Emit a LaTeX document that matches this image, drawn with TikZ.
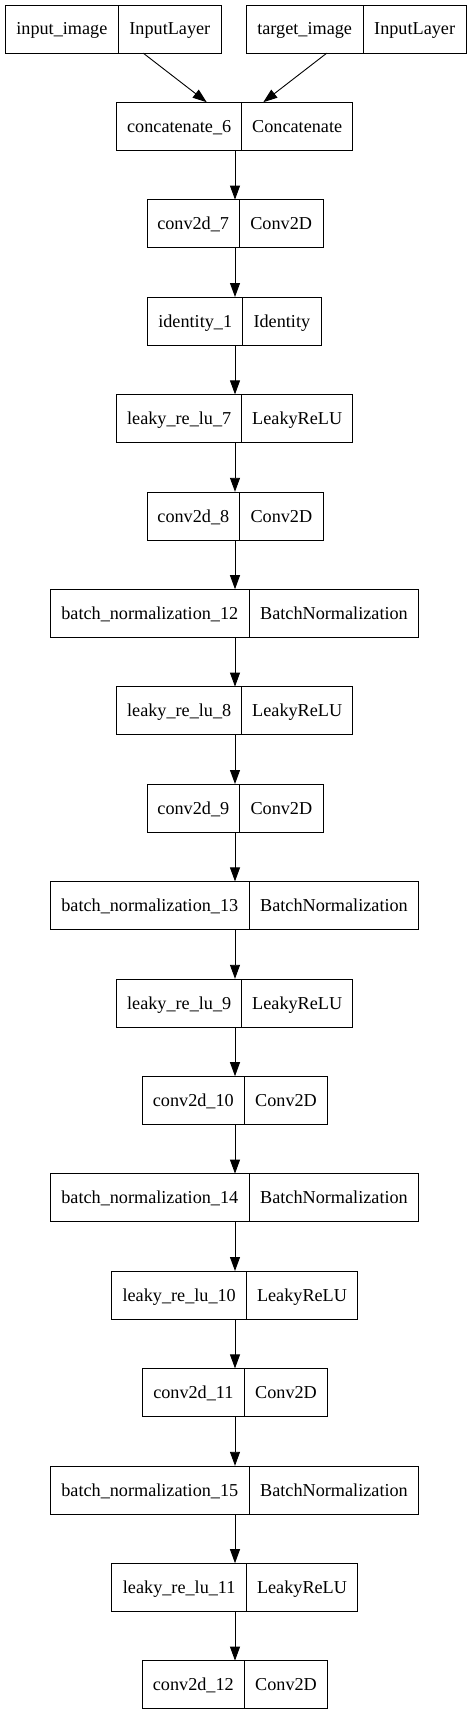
\documentclass[tikz,border=0pt]{standalone}
\usepackage{fontspec}
\setmainfont{Liberation Serif}
\usetikzlibrary{arrows.meta}
\tikzset{
  cell/.style={draw=black, line width=0.9pt, minimum height=48pt, inner sep=0pt,
    text height=12pt, text depth=0pt, font=\fontsize{18.2}{20}\selectfont},
  lay/.style={draw=none, minimum height=48pt, inner sep=0pt},
  edge/.style={line width=0.9pt, -{Triangle[length=14pt,width=10pt]}}
}
\newcommand{\mklayer}[7]{%
  \pgfmathsetmacro{\ly}{5+97.4*#2+24}%
  \pgfmathsetmacro{\lw}{#5-#3}%
  \pgfmathsetmacro{\lwa}{#4-#3}%
  \pgfmathsetmacro{\lwb}{#5-#4}%
  \pgfmathsetmacro{\lca}{(#3+#4)/2}%
  \pgfmathsetmacro{\lcb}{(#4+#5)/2}%
  \pgfmathsetmacro{\lc}{(#3+#5)/2}%
  \node[lay, minimum width=\lw pt] (#1) at (\lc,\ly) {};
  \node[cell, minimum width=\lwa pt] (#1l) at (\lca,\ly) {#6};
  \node[cell, minimum width=\lwb pt] (#1r) at (\lcb,\ly) {#7};
}
\begin{document}
\begin{tikzpicture}[x=1pt,y=-1pt]
\useasboundingbox (0,0) rectangle (471,1715);
\coordinate (axis) at (235,0);
\mklayer{inp}{0}{5}{118.7}{221}{input\_image}{InputLayer}
\mklayer{tgt}{0}{246}{363.3}{466}{target\_image}{InputLayer}
\mklayer{cat}{1}{116.7}{241.7}{352.7}{concatenate\_6}{Concatenate}
\mklayer{cvA}{2}{147}{239.3}{323}{conv2d\_7}{Conv2D}
\mklayer{idn}{3}{147.7}{242.7}{321}{identity\_1}{Identity}
\mklayer{lrA}{4}{116.7}{241.7}{352.7}{leaky\_re\_lu\_7}{LeakyReLU}
\mklayer{cvB}{5}{147}{239.7}{323}{conv2d\_8}{Conv2D}
\mklayer{bnA}{6}{50.3}{249.3}{418.7}{batch\_normalization\_12}{BatchNormalization}
\mklayer{lrB}{7}{116.7}{241.7}{352.7}{leaky\_re\_lu\_8}{LeakyReLU}
\mklayer{cvC}{8}{147}{239.7}{323}{conv2d\_9}{Conv2D}
\mklayer{bnB}{9}{50.3}{249.3}{418.7}{batch\_normalization\_13}{BatchNormalization}
\mklayer{lrC}{10}{116.7}{241.7}{352.7}{leaky\_re\_lu\_9}{LeakyReLU}
\mklayer{cvD}{11}{142}{244.7}{327.3}{conv2d\_10}{Conv2D}
\mklayer{bnC}{12}{50.3}{249.3}{418.7}{batch\_normalization\_14}{BatchNormalization}
\mklayer{lrD}{13}{111.7}{246.7}{357.3}{leaky\_re\_lu\_10}{LeakyReLU}
\mklayer{cvE}{14}{142}{244.7}{327.3}{conv2d\_11}{Conv2D}
\mklayer{bnD}{15}{50.3}{249.3}{418.7}{batch\_normalization\_15}{BatchNormalization}
\mklayer{lrE}{16}{111.7}{246.7}{357.3}{leaky\_re\_lu\_11}{LeakyReLU}
\mklayer{cvF}{17}{142}{244.7}{327.3}{conv2d\_12}{Conv2D}
\draw[edge] ([xshift=30.3pt]inp.south) -- ([xshift=-28pt]cat.north);
\draw[edge] ([xshift=-29.3pt]tgt.south) -- ([xshift=28.6pt]cat.north);
\foreach \a/\b in {cat/cvA, cvA/idn, idn/lrA, lrA/cvB, cvB/bnA, bnA/lrB, lrB/cvC, cvC/bnB, bnB/lrC, lrC/cvD, cvD/bnC, bnC/lrD, lrD/cvE, cvE/bnD, bnD/lrE, lrE/cvF}
  \draw[edge] (\a.south -| axis) -- (\b.north -| axis);
\end{tikzpicture}
\end{document}
